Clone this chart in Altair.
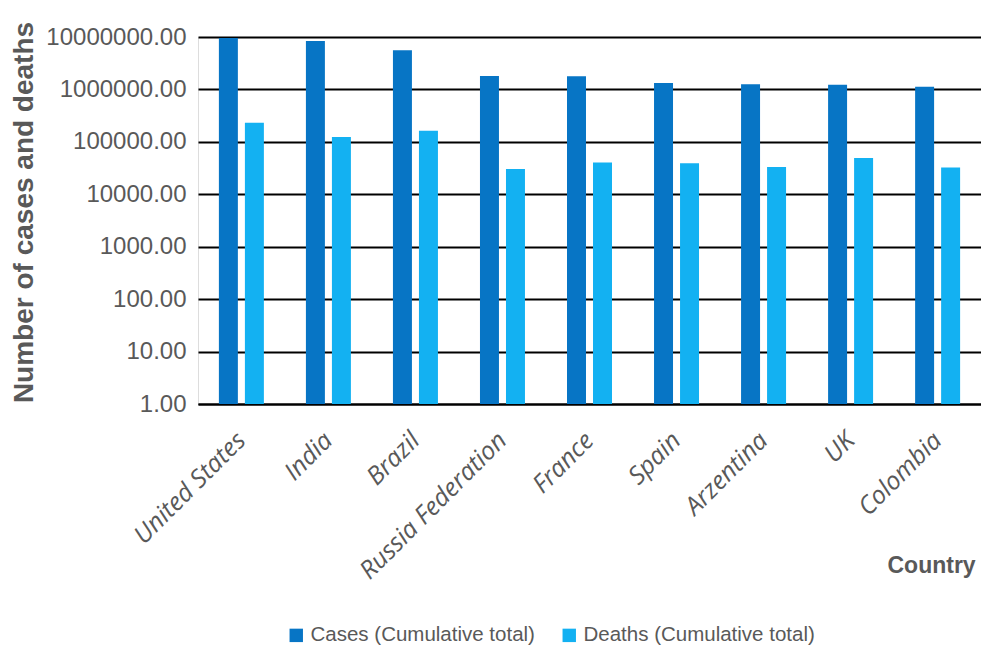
import altair as alt
import pandas as pd

countries = ["United States", "India", "Brazil", "Russia Federation", "France",
             "Spain", "Arzentina", "UK", "Colombia"]
cases = [9600000, 8400000, 5600000, 1800000, 1780000, 1320000, 1250000, 1230000, 1130000]
deaths = [232000, 124000, 162000, 30500, 40600, 39000, 33000, 49000, 32500]
series = ["Cases (Cumulative total)", "Deaths (Cumulative total)"]
colors = ["#0775C5", "#13B1F2"]
y_ticks = [1, 10, 100, 1000, 10000, 100000, 1000000, 10000000]

rows = []
for c, a, d in zip(countries, cases, deaths):
    rows.append({"Country": c, "Series": series[0], "Value": a})
    rows.append({"Country": c, "Series": series[1], "Value": d})
df = pd.DataFrame(rows)

GRAY = "#595959"
NARROW = "Liberation Sans Narrow, Arial Narrow, Liberation Sans, sans-serif"

chart = alt.Chart(df).mark_bar().encode(
    x=alt.X("Country:N", sort=countries,
            scale=alt.Scale(paddingInner=0.483, paddingOuter=0.24),
            axis=alt.Axis(title="Country", labelAngle=-45, labelAlign="right",
                          labelBaseline="middle", labelPadding=32,
                          labelFont="Open Sans", labelFontStyle="italic",
                          labelFontSize=25, labelColor=GRAY, labelLimit=0,
                          ticks=False, domain=True, domainColor="black", domainWidth=2,
                          titleFont="Liberation Sans", titleFontWeight="bold",
                          titleFontSize=23, titleColor=GRAY,
                          titleX=689, titleY=161, titleAlign="left",
                          titleBaseline="middle", titleAnchor="start")),
    xOffset=alt.XOffset("Series:N", sort=series,
                        scale=alt.Scale(paddingInner=0.27, paddingOuter=0)),
    y=alt.Y("Value:Q",
            scale=alt.Scale(type="log", domain=[1, 10000000], clamp=True, nice=False),
            axis=alt.Axis(title="Number of cases and deaths", values=y_ticks,
                          format=".2f", labelFont=NARROW, labelFontSize=24,
                          labelColor=GRAY, labelPadding=12,
                          ticks=False, domain=False, grid=True,
                          gridColor="black", gridWidth=2,
                          titleFont="Liberation Sans", titleFontWeight="bold",
                          titleFontSize=28, titleColor=GRAY,
                          titleX=-174, titleY=175, titleAngle=270,
                          titleAlign="center", titleBaseline="middle")),
    y2=alt.datum(1),
    color=alt.Color("Series:N", sort=series,
                    scale=alt.Scale(domain=series, range=colors),
                    legend=alt.Legend(title=None, orient="none", direction="horizontal",
                                      legendX=88, legendY=588,
                                      symbolType="square", symbolSize=180,
                                      symbolStrokeWidth=0,
                                      labelFont=NARROW, labelFontSize=20.5,
                                      labelColor=GRAY, labelOffset=4, labelLimit=0,
                                      columnPadding=24)),
).properties(
    width=783,
    height=367,
    autosize=alt.AutoSizeParams(type="none"),
    padding={"left": 190, "top": 29, "right": 0, "bottom": 244},
).configure_view(stroke=None).configure(background="white")

chart.save("out.html", embed_options={"renderer": "svg", "actions": False})
